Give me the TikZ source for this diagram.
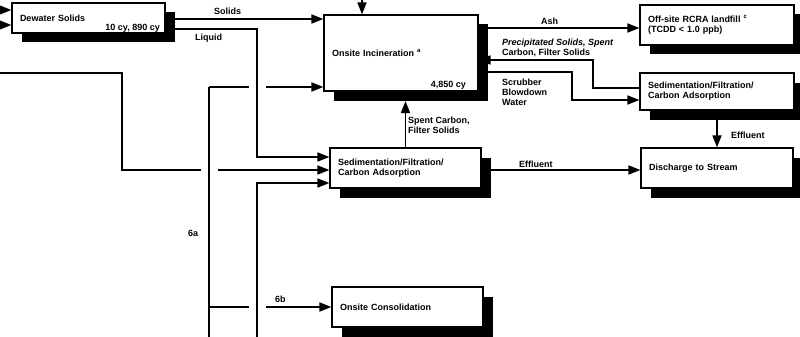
\documentclass[tikz,border=0pt]{standalone}
\usepackage{fontspec}
\setmainfont{Liberation Sans}
\usetikzlibrary{arrows.meta,shadows,calc}
\begin{document}
\begin{tikzpicture}[x=1pt,y=-1pt,
  every node/.style={font=\bfseries\fontsize{9}{10}\selectfont},
  box/.style={draw, line width=1.2pt, fill=white, align=left, inner xsep=8pt, inner ysep=0pt,
    drop shadow={shadow xshift=9.5pt, shadow yshift=-9.5pt, fill=black, opacity=1}},
  lbl/.style={inner sep=0pt, align=left, font=\bfseries\fontsize{9}{10}\selectfont},
  flow/.style={line width=1.7pt, -{Triangle[length=12pt,width=9pt]}},
  wire/.style={line width=1.7pt},
  gap/.style={white, line width=5pt}
]
\useasboundingbox (0,0) rectangle (800,337);

% boxes
\node[box, text width=137pt, minimum height=30pt] (dew) at (88.5,18) {Dewater Solids};
\node[box, text width=138pt, minimum height=76pt] (inc) at (401,53) {Onsite Incineration \textsuperscript{a}};
\node[box, text width=135pt, minimum height=40pt] (sed1) at (405.5,168) {Sedimentation/Filtration/\\Carbon Adsorption};
\node[box, text width=136pt, minimum height=40pt] (dis) at (717,168) {Discharge to Stream};
\node[box, text width=138pt, minimum height=40pt] (land) at (717,25) {Off-site RCRA landfill \textsuperscript{c}\\(TCDD < 1.0 ppb)};
\node[box, text width=138pt, minimum height=37pt] (sed2) at (717,91.5) {Sedimentation/Filtration/\\Carbon Adsorption};
\node[box, text width=135pt, minimum height=40pt] (con) at (407.5,307) {Onsite Consolidation};

\node[lbl, anchor=base east] (dewq) at (160,31) {10 cy, 890 cy};
\node[lbl, anchor=base east] (incq) at (466,88) {4,850 cy};

% coordinates
\coordinate (inA) at (0,10);
\coordinate (inB) at (0,25);
\coordinate (topin) at (362,0);
\coordinate (sol) at ($(dew.east)+(9.5,1)$);
\coordinate (liq) at ($(dew.east)+(9.5,11)$);
\coordinate (liqc) at (257,157);
\coordinate (lt) at (0,73);
\coordinate (lc) at (122,170);
\coordinate (vtop) at (209,87);
\coordinate (vbot) at (209,337);
\coordinate (v6b) at (209,307);
\coordinate (cbot) at (257,337);
\coordinate (cc) at (257,183);
\coordinate (incsh) at ($(inc.south)+(0,9.5)$);
\coordinate (eff) at ($(sed1.east)+(9.5,2)$);
\coordinate (ash) at ($(inc.east)+(9.5,-25)$);
\coordinate (pr1) at (593,88);
\coordinate (pr2) at (593,60);
\coordinate (sc) at ($(inc.east)+(9.5,19)$);
\coordinate (sc2) at (572,100);

% connectors
\draw[flow] (inA) -- (dew.west |- inA);
\draw[flow] (inB) -- (dew.west |- inB);
\draw[flow] (topin) -- (topin |- inc.north);
\draw[flow] (sol) -- (inc.west |- sol);
\draw[flow] (lt) -| (lc) -- (sed1.west |- lc);
\draw[flow] (v6b) -- (con.west |- v6b);
\draw[flow] (vtop) -- (inc.west |- vtop);
% crossing gaps
\draw[gap] ($(lc -| vtop)+(-8.5,0)$) -- ($(lc -| vtop)+(8.5,0)$);
\draw[gap] ($(vtop -| liqc)+(-8.5,0)$) -- ($(vtop -| liqc)+(8.5,0)$);
\draw[gap] ($(v6b -| cc)+(-8.5,0)$) -- ($(v6b -| cc)+(8.5,0)$);
\draw[wire] (vbot) -- (vtop);
\draw[flow] (liq) -| (liqc) -- (sed1.west |- liqc);
\draw[flow] (cbot) -- (cc) -- (sed1.west |- cc);
\draw[flow] (sed1.north) -- (sed1.north |- incsh);
\draw[flow] (eff) -- (dis.west |- eff);
\draw[flow] ($(sed2.south)+(0,9.5)$) -- (dis.north);
\draw[flow] (ash) -- (land.west |- ash);
\draw[flow] (sed2.west |- pr1) -- (pr1) -- (pr2) -- (inc.east |- pr2);
\draw[flow] (sc) -| (sc2) -- (sed2.west |- sc2);

% labels
\node[lbl, anchor=base west] (lsol) at (214,15) {Solids};
\node[lbl, anchor=base west] (lliq) at (195,41) {Liquid};
\node[lbl, anchor=base west] (lash) at (541,25) {Ash};
\node[lbl, anchor=north west] (lpre) at (502,39) {\itshape Precipitated Solids, Spent\\Carbon, Filter Solids};
\node[lbl, anchor=north west] (lscr) at (502,78.5) {Scrubber\\Blowdown\\Water};
\node[lbl, anchor=north west] (lspe) at (408,116.5) {Spent Carbon,\\Filter Solids};
\node[lbl, anchor=base west] (leff1) at (519,167) {Effluent};
\node[lbl, anchor=base west] (leff2) at (731,138) {Effluent};
\node[lbl, anchor=base west] (l6a) at (188,236) {6a};
\node[lbl, anchor=base west] (l6b) at (275,302) {6b};
\end{tikzpicture}
\end{document}
